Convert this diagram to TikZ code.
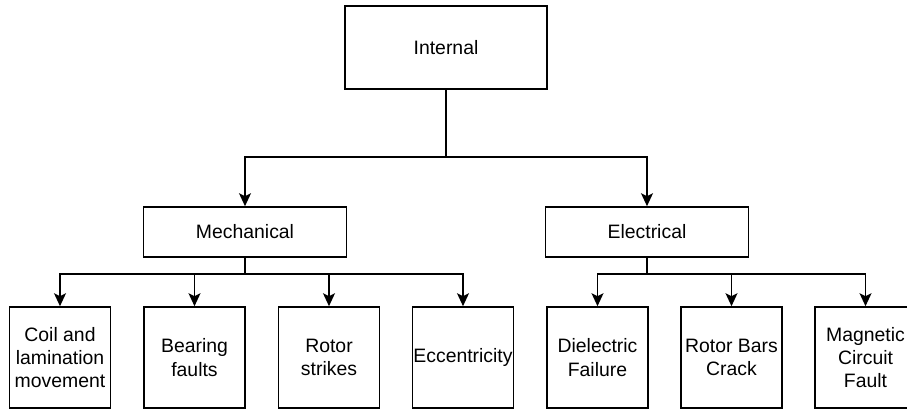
\documentclass[tikz,border=0pt]{standalone}
\usepackage{fontspec}
\setmainfont{Liberation Sans}
\usetikzlibrary{arrows.meta}
\begin{document}
\begin{tikzpicture}[x=1pt,y=-1pt,
  box/.style={draw=black, line width=1.6pt, fill=white, align=center,
    inner sep=0pt, font=\fontsize{19.4}{23.3}\selectfont},
  leaf/.style={box, minimum width=101pt, minimum height=101pt},
  mid/.style={box, minimum width=203pt, minimum height=50pt},
  link/.style={line width=1.6pt},
  arr/.style={link, -{Stealth[length=13pt, width=12pt, inset=3pt]}}]
\useasboundingbox (0,0) rectangle (907,410);

% root
\node[box, minimum width=202pt, minimum height=83pt] (int) at (446,47.5) {Internal};

% second level
\node[mid] (mech) at (245,232) {Mechanical};
\node[mid] (elec) at (647,232) {Electrical};

% leaves
\node[leaf] (coil) at (60,357.5)   {Coil and\\lamination\\movement};
\node[leaf] (bear) at (194.5,357.5) {Bearing\\faults};
\node[leaf] (rstr) at (329,357.5)  {Rotor\\strikes};
\node[leaf] (ecc)  at (463,357.5)  {Eccentricity};
\node[leaf] (diel) at (597.5,357.5) {Dielectric\\Failure};
\node[leaf] (rbar) at (731.5,357.5) {Rotor Bars\\Crack};
\node[leaf] (magn) at (865.5,357.5) {Magnetic\\Circuit\\Fault};

% junction points
\coordinate (j0) at (446,157);
\coordinate (j1) at (245,274);
\coordinate (j2) at (647,274);

% connectors
\draw[link] (int.south) -- (j0);
\draw[arr] (j0) -| (mech.north);
\draw[arr] (j0) -| (elec.north);

\draw[link] (mech.south) -- (j1);
\draw[arr] (j1) -| (coil.north);
\draw[arr] (j1) -| (bear.north);
\draw[arr] (j1) -| (rstr.north);
\draw[arr] (j1) -| (ecc.north);

\draw[link] (elec.south) -- (j2);
\draw[arr] (j2) -| (diel.north);
\draw[arr] (j2) -| (rbar.north);
\draw[arr] (j2) -| (magn.north);
\end{tikzpicture}
\end{document}
